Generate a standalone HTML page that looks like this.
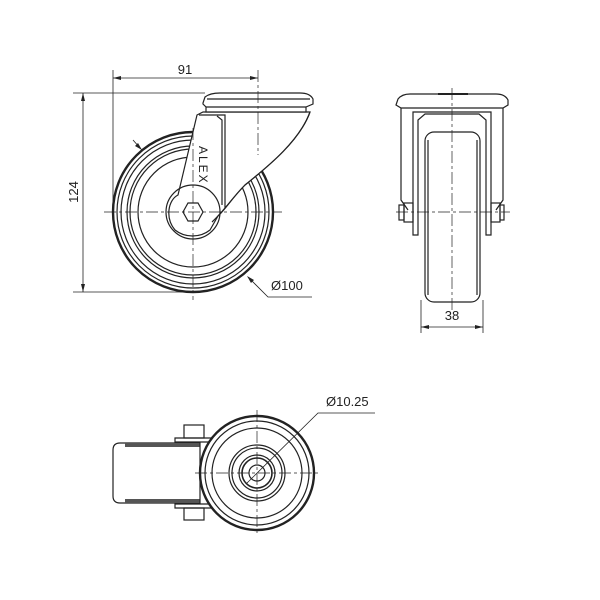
<!DOCTYPE html>
<html><head><style>body{margin:0;background:#fff}svg{display:block}text{font-family:"Liberation Sans",sans-serif;fill:#222;stroke:none}</style></head>
<body>
<svg width="600" height="600" viewBox="0 0 600 600" xmlns="http://www.w3.org/2000/svg" fill="none" stroke="#222" stroke-width="1.2">
<!-- FRONT VIEW -->
<g>
<circle cx="193" cy="212" r="80" stroke-width="2.4"/>
<circle cx="193" cy="212" r="76"/>
<circle cx="193" cy="212" r="72"/>
<circle cx="193" cy="212" r="66"/>
<circle cx="193" cy="212" r="63"/>
<circle cx="193" cy="212" r="55"/>
<path d="M203,112 L310,112 C300,140 270,165 245,185 C232,198 225,210 218,216 L210,230 C200,238 185,238 175,230 C165,218 168,200 178,195 L197,115 Z" fill="#fff"/>
<path d="M199,115 L225,115 L225,208" />
<path d="M217,116 L222,120 L222,205"/>
<path d="M310,112 C300,140 270,165 245,185 C232,198 225,210 212,222"/>
<circle cx="193" cy="212" r="27" fill="none"/>
<polygon points="203,212 198,221 188,221 183,212 188,203 198,203" fill="#fff"/>
<path d="M203,103 L205,97 Q210,93 220,93 L300,93 Q310,93 313,99 L313,104 L306,107 L306,112 L206,112 L206,107 L203,104 Z" fill="#fff"/>
<line x1="206" y1="107" x2="306" y2="107"/>
<line x1="207" y1="99" x2="310" y2="99"/>
<text x="0" y="0" font-size="12" transform="translate(199,146) rotate(90)" style="letter-spacing:2px">ALEX</text>
<g stroke-dasharray="12,3,3,3" stroke-width="0.7">
<line x1="104" y1="212" x2="282" y2="212"/>
<line x1="193" y1="128" x2="193" y2="300"/>
<line x1="258" y1="70" x2="258" y2="155"/>
</g>
<g stroke-width="0.8">
<line x1="113" y1="70" x2="113" y2="212"/>
<line x1="113" y1="78" x2="258" y2="78"/>
<line x1="73" y1="93" x2="205" y2="93"/>
<line x1="73" y1="292" x2="193" y2="292"/>
<line x1="83" y1="93" x2="83" y2="292"/>
<line x1="133" y1="140" x2="140" y2="148"/>
<polyline points="248,277 268,297 312,297"/>
</g>
<g fill="#222" stroke="none">
<polygon points="113,78 121,76 121,80"/><polygon points="258,78 250,76 250,80"/>
<polygon points="83,93 81,101 85,101"/><polygon points="83,292 81,284 85,284"/>
<polygon points="142,150 135,146 138,143"/><polygon points="247,276 254,280 251,283"/>
</g>
<text x="185" y="74" font-size="13" text-anchor="middle">91</text>
<text font-size="13" text-anchor="middle" transform="translate(78,192) rotate(-90)">124</text>
<text x="271" y="290" font-size="13">Ø100</text>
</g>

<!-- SIDE VIEW -->
<g>
<path d="M396,105 L398,99 Q402,94 410,94 L496,94 Q505,94 508,100 L508,105 L503,108 L401,108 Z"/>
<line x1="438" y1="94" x2="468" y2="94" stroke-width="2"/>
<path d="M401,108 L401,200 L408,210 M503,108 L503,200 L496,210"/>
<path d="M413,112 L413,235 L418,235 L418,120 L425,114 L479,114 L486,120 L486,235 L491,235 L491,112 Z"/>
<rect x="425" y="132" width="55" height="170" rx="9" fill="#fff"/>
<line x1="428" y1="140" x2="428" y2="295"/><line x1="477" y1="140" x2="477" y2="295"/>
<rect x="404" y="203" width="9" height="19"/><rect x="399" y="205" width="5" height="15"/>
<rect x="491" y="203" width="9" height="19"/><rect x="500" y="205" width="4" height="15"/>
<g stroke-dasharray="12,3,3,3" stroke-width="0.7">
<line x1="396" y1="212" x2="510" y2="212"/><line x1="452" y1="88" x2="452" y2="310"/>
</g>
<g stroke-width="0.8"><line x1="421" y1="300" x2="421" y2="333"/><line x1="483" y1="300" x2="483" y2="333"/><line x1="421" y1="327" x2="483" y2="327"/></g>
<g fill="#222" stroke="none"><polygon points="421,327 429,325 429,329"/><polygon points="483,327 475,325 475,329"/></g>
<text x="452" y="320" font-size="13" text-anchor="middle">38</text>
</g>

<!-- BOTTOM VIEW -->
<g>
<path d="M200,443 L120,443 Q113,443 113,450 L113,496 Q113,503 120,503 L200,503" />
<rect x="125" y="443" width="75" height="4" fill="#555" stroke="none"/>
<rect x="125" y="499" width="75" height="4" fill="#555" stroke="none"/>
<path d="M175,438 L215,438 L215,442 L175,442 Z M175,504 L215,504 L215,508 L175,508 Z"/>
<rect x="184" y="425" width="20" height="13"/><rect x="184" y="508" width="20" height="12"/>
<line x1="200" y1="442" x2="200" y2="504"/>
<circle cx="257" cy="473" r="57" stroke-width="2.4" fill="#fff"/>
<circle cx="257" cy="473" r="52"/>
<circle cx="257" cy="473" r="45"/>
<circle cx="257" cy="473" r="28"/><circle cx="257" cy="473" r="25"/>
<circle cx="257" cy="473" r="18"/><circle cx="257" cy="473" r="15" stroke-width="1.6"/>
<circle cx="257" cy="473" r="8"/>
<g stroke-dasharray="12,3,3,3" stroke-width="0.7">
<line x1="195" y1="473" x2="320" y2="473"/><line x1="257" y1="410" x2="257" y2="536"/>
</g>
<polyline points="246,484 318,413 375,413" stroke-width="0.8"/>
<text x="326" y="406" font-size="13">Ø10.25</text>
</g>
</svg>
</body></html>
